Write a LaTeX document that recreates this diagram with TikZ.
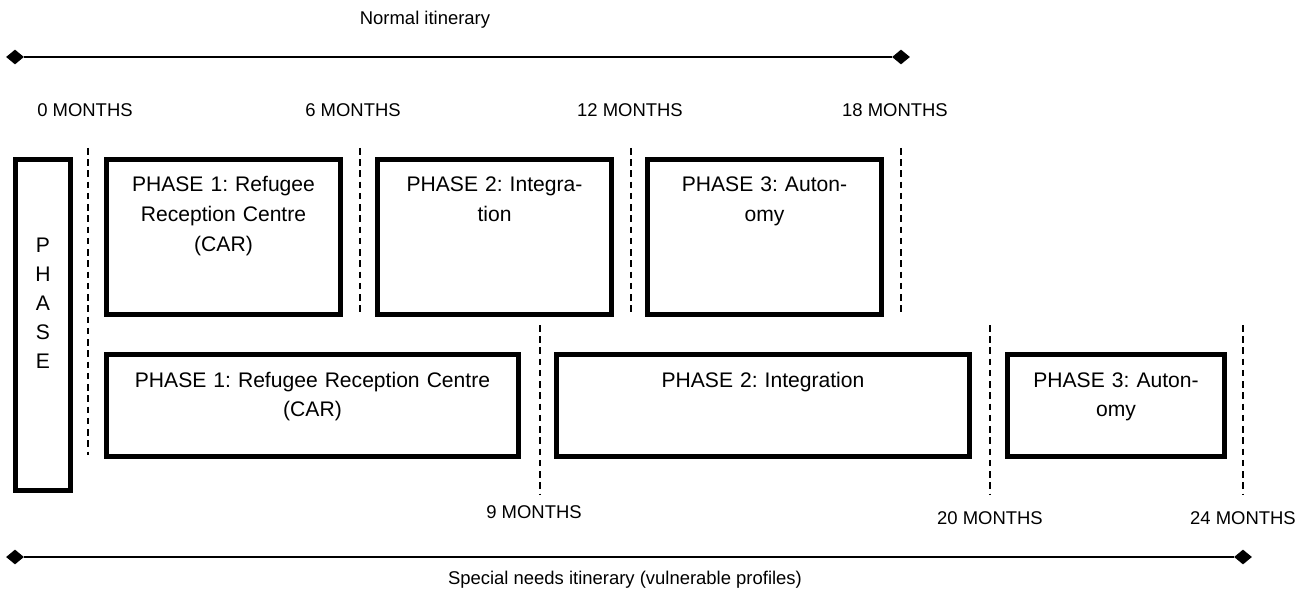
\documentclass[tikz,border=0pt]{standalone}
\usepackage{fontspec}
\setmainfont{Liberation Sans}
\frenchspacing
\usetikzlibrary{shapes.geometric}

\tikzset{
  phasebox/.style={draw, line width=3pt, outer sep=0pt, inner sep=0pt},
  boxtext/.style={anchor=base, align=center, inner sep=0pt, text width=#1, font=\fontsize{12}{17}\selectfont},
  months/.style={font=\fontsize{10.5}{12.6}\selectfont},
  cut/.style={line width=1pt, dash pattern=on 3.7pt off 2.7pt},
  itin/.style={line width=1pt},
  tip/.style={diamond, fill, inner sep=0pt, minimum width=0.36cm, minimum height=0.3cm}
}

\begin{document}
\begin{tikzpicture}

% the page
\useasboundingbox[fill=white] (0,0) rectangle (26.18,-11.84);

% normal itinerary
\node[months] (normal) at (8.5,-0.4) {Normal itinerary};
\node[tip] (n0) at (0.3,-1.14) {};
\node[tip] (n18) at (18.02,-1.14) {};
\draw[itin] (n0) -- (n18);

% months on top
\foreach \x/\m in {1.7/0, 7.06/6, 12.6/12, 17.9/18}
  \node[months] (m\m) at (\x,-2.2) {\m{} MONTHS};

% the dashed cuts
\foreach \x/\ya/\yb in {1.76/-2.96/-9.1, 7.2/-2.96/-6.32, 12.62/-2.96/-6.32, 18.02/-2.96/-6.32,
                        10.8/-6.5/-9.88, 19.8/-6.5/-9.88, 24.86/-6.5/-9.88}
  \draw[cut] (\x,\ya) -- (\x,\yb);

% the PHASE column
\node[phasebox, minimum width=1.1cm, minimum height=6.62cm] (phase) at (0.86,-6.5) {};
\node[anchor=base, align=center, inner sep=0pt, text width=0.6cm, font=\fontsize{12}{16.5}\selectfont]
  (phasetxt) at ([yshift=-1.87cm]phase.north) {P\\H\\A\\S\\E};

% normal phases
\node[phasebox, minimum width=4.68cm, minimum height=3.1cm] (t1) at (4.47,-4.74) {};
\node[phasebox, minimum width=4.68cm, minimum height=3.1cm] (t2) at (9.89,-4.74) {};
\node[phasebox, minimum width=4.68cm, minimum height=3.1cm] (t3) at (15.29,-4.74) {};
\node[boxtext=4.4cm] (t1txt) at ([yshift=-0.64cm]t1.north) {PHASE 1: Refugee\\Reception Centre\\(CAR)};
\node[boxtext=4.4cm] (t2txt) at ([yshift=-0.64cm]t2.north) {PHASE 2: Integra-\\tion};
\node[boxtext=4.4cm] (t3txt) at ([yshift=-0.64cm]t3.north) {PHASE 3: Auton-\\omy};

% special needs phases
\node[phasebox, minimum width=8.24cm, minimum height=2.04cm] (b1) at (6.25,-8.11) {};
\node[phasebox, minimum width=8.26cm, minimum height=2.04cm] (b2) at (15.26,-8.11) {};
\node[phasebox, minimum width=4.34cm, minimum height=2.04cm] (b3) at (22.32,-8.11) {};
\node[boxtext=7.8cm] (b1txt) at ([yshift=-0.65cm]b1.north) {PHASE 1: Refugee Reception Centre\\(CAR)};
\node[boxtext=7.8cm] (b2txt) at ([yshift=-0.65cm]b2.north) {PHASE 2: Integration};
\node[boxtext=4.1cm] (b3txt) at ([yshift=-0.65cm]b3.north) {PHASE 3: Auton-\\omy};

% months below
\node[months] (m9) at (10.68,-10.24) {9 MONTHS};
\node[months] (m20) at (19.8,-10.36) {20 MONTHS};
\node[months] (m24) at (24.86,-10.36) {24 MONTHS};

% special needs itinerary
\node[tip] (s0) at (0.3,-11.14) {};
\node[tip] (s24) at (24.86,-11.14) {};
\draw[itin] (s0) -- (s24);
\node[months] (special) at (12.5,-11.6) {Special needs itinerary (vulnerable profiles)};

\end{tikzpicture}
\end{document}
